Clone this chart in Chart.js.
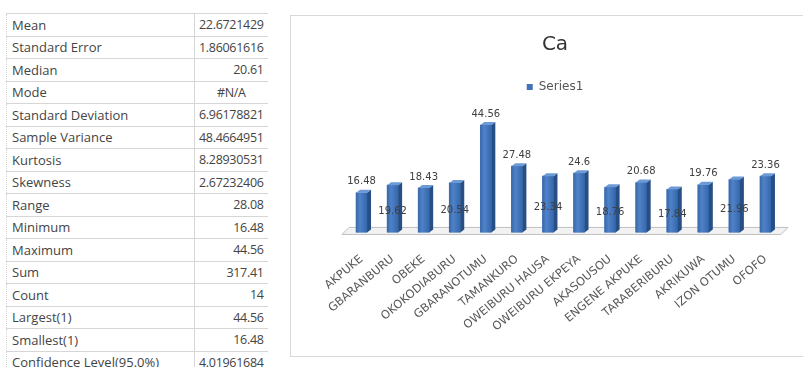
<!DOCTYPE html>
<html>
<head>
<meta charset="utf-8">
<script src="https://cdn.jsdelivr.net/npm/chart.js@4.4.0/dist/chart.umd.min.js"></script>
<style>
  body { margin: 0; width: 803px; height: 367px; background: #fff; overflow: hidden; position: relative; font-family: "Open Sans", sans-serif; }
  #stats { position: absolute; left: 6px; top: 13px; border-collapse: collapse; font-size: 13px; color: #444; }
  #stats tr { height: 22.5px; }
  #stats td { padding: 0; border-top: 1px solid #d6d6d6; border-bottom: 1px solid #d6d6d6; white-space: nowrap; }
  #stats td.lbl { width: 182px; padding-left: 5px; border-left: 1px dotted #d6d6d6; border-right: 1px solid #d6d6d6; }
  #stats td.val { width: 58px; padding-right: 4px; padding-left: 4px; text-align: right; font-size: 12.5px; letter-spacing: -0.3px; }
  #stats td.val.err { text-align: center; }
  #box { position: absolute; left: 290px; top: 15px; width: 513px; height: 342px; border: 1px solid #d9d9d9; border-right: none; box-sizing: border-box; }
  #chart { position: absolute; left: 0; top: 0; }
</style>
</head>
<body>
<table id="stats"><tbody></tbody></table>
<div id="box"><canvas id="chart" width="512" height="340"></canvas></div>
<script>
// --- DATA ---
const statLabels = ["Mean", "Standard Error", "Median", "Mode", "Standard Deviation", "Sample Variance",
  "Kurtosis", "Skewness", "Range", "Minimum", "Maximum", "Sum", "Count", "Largest(1)", "Smallest(1)",
  "Confidence Level(95.0%)"];
const statValues = ["22.6721429", "1.86061616", "20.61", "#N/A", "6.96178821", "48.4664951",
  "8.28930531", "2.67232406", "28.08", "16.48", "44.56", "317.41", "14", "44.56", "16.48", "4.01961684"];

const categories = ["AKPUKE", "GBARANBURU", "OBEKE", "OKOKODIABURU", "GBARANOTUMU", "TAMANKURO",
  "OWEIBURU HAUSA", "OWEIBURU EKPEYA", "AKASOUSOU", "ENGENE AKPUKE", "TARABERIBURU", "AKRIKUWA",
  "IZON OTUMU", "OFOFO"];
const caValues = [16.48, 19.62, 18.43, 20.54, 44.56, 27.48, 23.34, 24.6, 18.76, 20.68, 17.84, 19.76, 21.96, 23.36];

// --- STATS TABLE ---
const tbody = document.querySelector("#stats tbody");
statLabels.forEach((lbl, i) => {
  const tr = document.createElement("tr");
  const v = statValues[i];
  tr.innerHTML = `<td class="lbl">${lbl}</td><td class="val${v.startsWith("#") ? " err" : ""}">${v}</td>`;
  tbody.appendChild(tr);
});

// --- 3D LOOK ---
// where Excel put each value label: "t" above the bar, "m" in the middle of it
const labelSpots = ["t", "m", "t", "m", "t", "t", "m", "t", "m", "t", "m", "t", "m", "t"];
const DX = 4, DY = 3;

const floorPlugin = {
  id: "floor",
  beforeDatasetsDraw(chart) {
    const { ctx, chartArea: a } = chart;
    ctx.save();
    ctx.beginPath();
    ctx.moveTo(a.left - 4, a.bottom + 2);
    ctx.lineTo(a.left + 3, a.bottom - 5);
    ctx.lineTo(a.right + 7, a.bottom - 5);
    ctx.lineTo(a.right, a.bottom + 2);
    ctx.closePath();
    ctx.fillStyle = "#f2f2f2";
    ctx.fill();
    ctx.strokeStyle = "#c0c0c0";
    ctx.lineWidth = 1;
    ctx.stroke();
    ctx.restore();
  }
};

const barsPlugin = {
  id: "bars3d",
  afterDatasetsDraw(chart) {
    const { ctx } = chart;
    const meta = chart.getDatasetMeta(0);
    ctx.save();
    meta.data.forEach((bar, i) => {
      const w = bar.width, l = bar.x - w / 2, r = bar.x + w / 2, top = bar.y, base = bar.base;
      // front with soft shading
      const g = ctx.createLinearGradient(l, 0, r, 0);
      g.addColorStop(0, "#3a68a8");
      g.addColorStop(0.35, "#4f82c8");
      g.addColorStop(1, "#3567ad");
      ctx.fillStyle = g;
      ctx.fillRect(l, top, w, base - top);
      // side
      ctx.beginPath();
      ctx.moveTo(r, top); ctx.lineTo(r + DX, top - DY); ctx.lineTo(r + DX, base - DY); ctx.lineTo(r, base);
      ctx.closePath();
      ctx.fillStyle = "#264f86";
      ctx.fill();
      // top
      ctx.beginPath();
      ctx.moveTo(l, top); ctx.lineTo(l + DX, top - DY); ctx.lineTo(r + DX, top - DY); ctx.lineTo(r, top);
      ctx.closePath();
      ctx.fillStyle = "#6b9ad6";
      ctx.fill();
      // value label
      ctx.font = "10px 'DejaVu Sans'";
      ctx.fillStyle = "#404040";
      ctx.textAlign = "center";
      ctx.textBaseline = "middle";
      const ly = labelSpots[i] === "t" ? top - 11 : (top + base) / 2 + 3;
      ctx.fillText(String(caValues[i]), bar.x, ly);
    });
    ctx.restore();
  }
};

// --- CHART ---
new Chart(document.getElementById("chart"), {
  type: "bar",
  data: {
    labels: categories,
    datasets: [{
      label: "Series1",
      data: caValues,
      backgroundColor: "#4372b8",
      barThickness: 11
    }]
  },
  options: {
    responsive: false,
    animation: false,
    devicePixelRatio: 1,
    layout: { padding: { left: 38, right: 22, top: 0, bottom: 10 } },
    plugins: {
      title: {
        display: true, text: "Ca", color: "#333",
        font: { family: "DejaVu Sans", size: 20, weight: "normal" },
        padding: { top: 17, bottom: 15 }
      },
      legend: {
        display: true,
        labels: { boxWidth: 6, boxHeight: 6, color: "#555", padding: 9, font: { family: "DejaVu Sans", size: 12 } }
      },
      tooltip: { enabled: false }
    },
    scales: {
      x: {
        grid: { display: false }, border: { display: false },
        ticks: { minRotation: 40, maxRotation: 40, padding: 12, color: "#595959",
          font: { family: "DejaVu Sans", size: 11.5 } }
      },
      y: {
        display: true, min: 0, max: 53.7,
        grid: { display: false }, border: { display: false },
        ticks: { display: false },
        afterFit(scale) { scale.width = 17; }
      }
    }
  },
  plugins: [floorPlugin, barsPlugin]
});
</script>
</body>
</html>
